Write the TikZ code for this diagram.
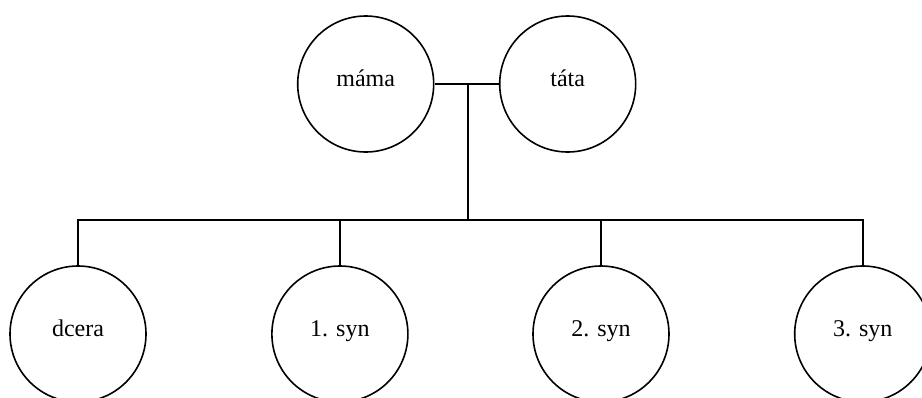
\documentclass[tikz,border=0pt]{standalone}
\usepackage{fontspec}
\setmainfont{Liberation Serif}

\begin{document}
\begin{tikzpicture}[x=0.75pt,y=-0.75pt,line width=1.2pt,
  person/.style={circle,draw,minimum size=102pt,inner sep=0pt,
    text height=1.5ex,text depth=.75ex,
    font=\fontsize{18}{22}\selectfont}]
  \useasboundingbox (0,0) rectangle (922,397);
  \node[person] (mama)  at (365.7,84)  {máma};
  \node[person] (tata)  at (567.7,84)  {táta};
  \node[person] (dcera) at (78,334)    {dcera};
  \node[person] (syn1)  at (339.9,334) {1. syn};
  \node[person] (syn2)  at (601,334)   {2. syn};
  \node[person] (syn3)  at (862.7,334) {3. syn};
  \coordinate (pair) at (467.7,84);
  \coordinate (bus)  at (467.7,220);
  \draw (mama) -- (tata);
  \draw (pair) -- (bus);
  \draw (dcera.north) -- (dcera.north |- bus) -- (syn3.north |- bus)
    -- (syn3.north);
  \draw (syn1.north) -- (syn1.north |- bus);
  \draw (syn2.north) -- (syn2.north |- bus);
\end{tikzpicture}
\end{document}
